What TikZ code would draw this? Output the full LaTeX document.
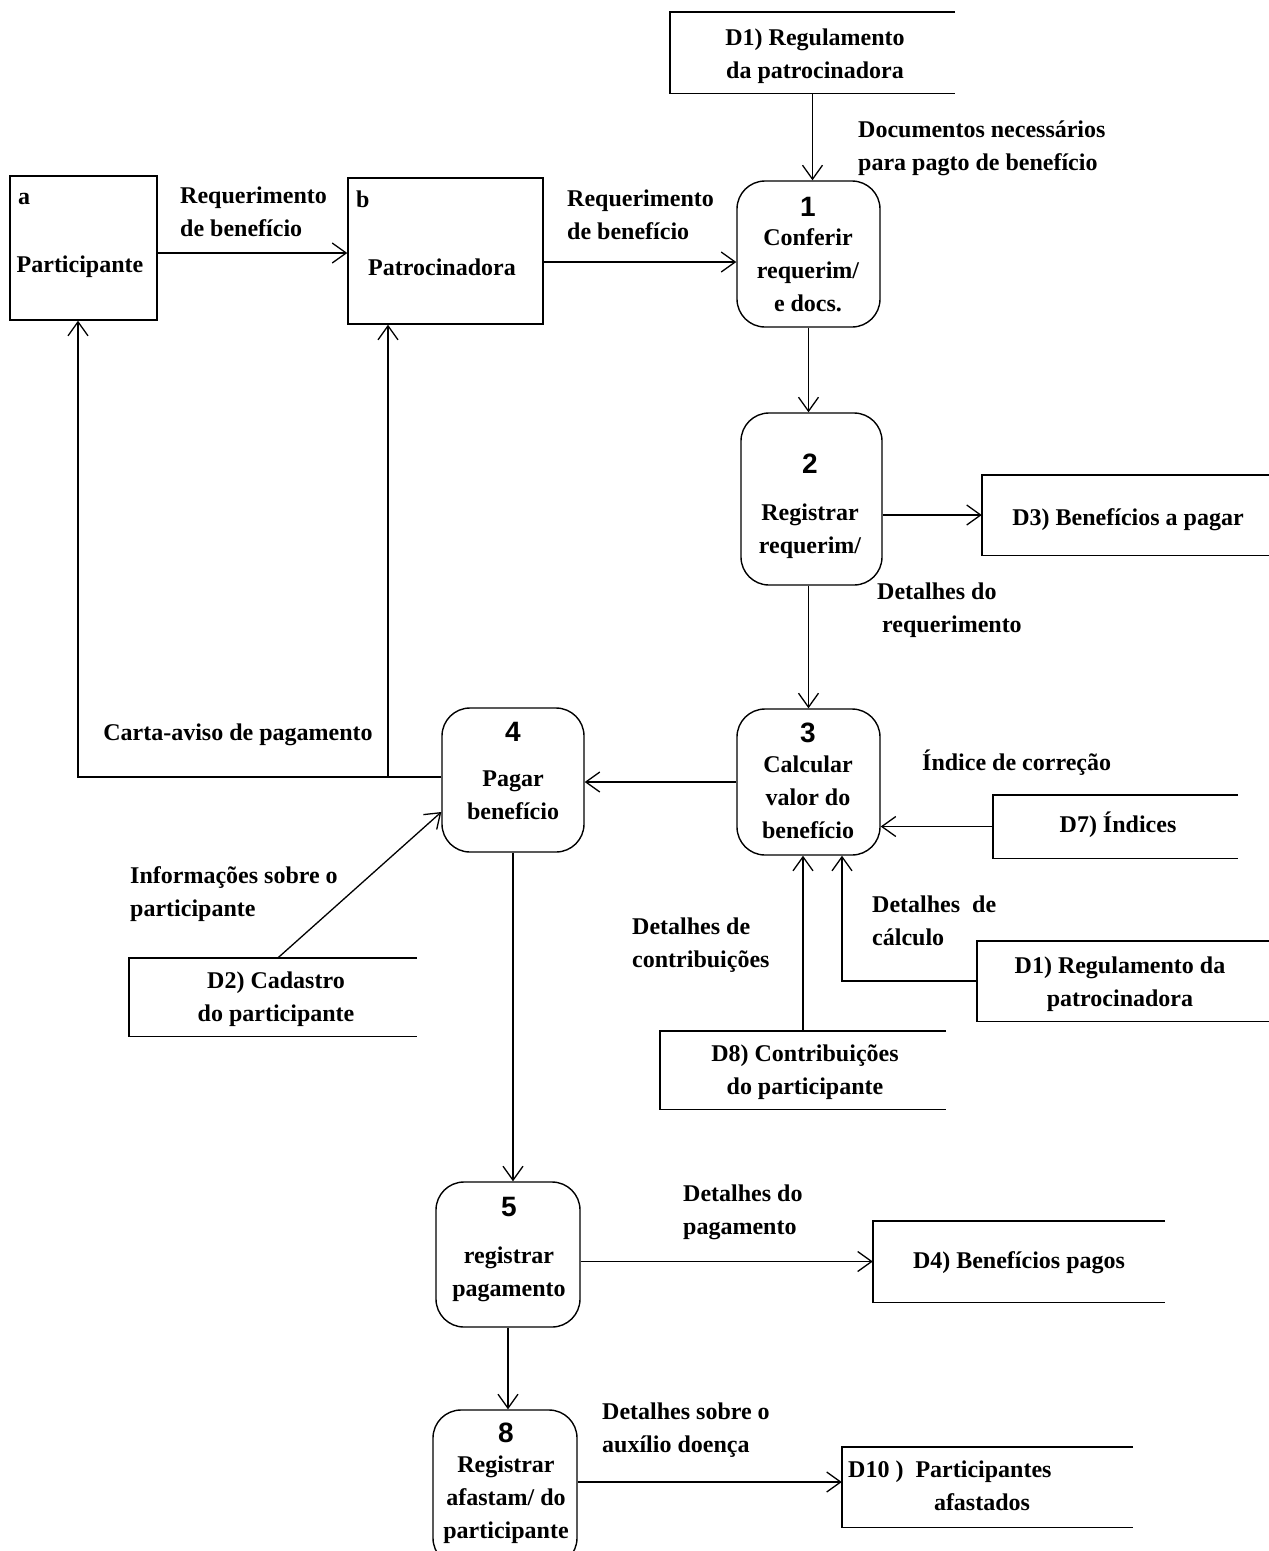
\documentclass[tikz,border=0pt]{standalone}
\usepackage{fontspec}
\setmainfont{Liberation Serif}
\newfontfamily\numfont{Liberation Sans}
\usetikzlibrary{arrows.meta}
\begin{document}
\begin{tikzpicture}[x=1pt,y=-1pt,
  font=\fontsize{24}{33}\selectfont\bfseries,
  shapebox/.style={draw, line width=1.4pt, rectangle, inner sep=0pt},
  ent/.style={shapebox},
  proc/.style={shapebox, rounded corners=28pt},
  store/.style={rectangle, inner sep=0pt},
  storeline/.style={line width=1.4pt},
  arr/.style={line width=1.3pt, -{Straight Barb[length=14pt,width=20pt,line width=1.3pt]}},
  lbl/.style={inner sep=0pt, align=left, anchor=base west},
  ctr/.style={inner sep=0pt, align=center, anchor=base},
  num/.style={inner sep=0pt, anchor=base, font=\numfont\fontsize{28}{33}\selectfont\bfseries},
]
\useasboundingbox (0,0) rectangle (1269,1551);
\clip (0,0) rectangle (1269,1551);
\fill[white] (0,0) rectangle (1269,1551);

% external entities
\node[ent, minimum width=147pt, minimum height=144pt] (a) at (83.5,248) {};
\node[lbl] (aid) at (18,204) {a};
\node[ctr] (atx) at (80,272) {Participante};
\node[ent, minimum width=195pt, minimum height=146pt] (b) at (445.5,251) {};
\node[lbl] (bid) at (356,207) {b};
\node[ctr] (btx) at (442,275) {Patrocinadora};

% processes
\node[proc, minimum width=143pt, minimum height=146pt] (p1) at (808.5,254) {};
\node[num] (n1) at (808,216) {1};
\node[ctr] (t1) at (808,311) {Conferir\\requerim/\\e docs.};

\node[proc, minimum width=141pt, minimum height=172pt] (p2) at (811.5,499) {};
\node[num] (n2) at (810,473) {2};
\node[ctr] (t2) at (810,553) {Registrar\\requerim/};

\node[proc, minimum width=143pt, minimum height=146pt] (p3) at (808.5,782) {};
\node[num] (n3) at (808,742) {3};
\node[ctr] (t3) at (808,838) {Calcular\\valor do\\benefício};

\node[proc, minimum width=142pt, minimum height=144pt] (p4) at (513,780) {};
\node[num] (n4) at (513,741) {4};
\node[ctr] (t4) at (513,819) {Pagar\\benefício};

\node[proc, minimum width=144pt, minimum height=145pt] (p5) at (508,1254.5) {};
\node[num] (n5) at (509,1216) {5};
\node[ctr] (t5) at (509,1296) {registrar\\pagamento};

\node[proc, minimum width=144pt, minimum height=156pt] (p8) at (505,1488) {};
\node[num] (n8) at (506,1442) {8};
\node[ctr] (t8) at (506,1538) {Registrar\\afastam/ do\\participante};

% data stores
\node[store, minimum width=285pt, minimum height=81pt] (d1) at (812.5,52.5) {};
\draw[storeline] (d1.north east) -- (d1.north west) -- (d1.south west) -- (d1.south east);
\node[ctr] (d1t) at (815,78) {D1) Regulamento\\da patrocinadora};

\node[store, minimum width=287pt, minimum height=80pt] (d3) at (1125.5,515) {};
\draw[storeline] (d3.north east) -- (d3.north west) -- (d3.south west) -- (d3.south east);
\node[ctr] (d3t) at (1128,525) {D3) Benefícios a pagar};

\node[store, minimum width=245pt, minimum height=63pt] (d7) at (1115.5,826.5) {};
\draw[storeline] (d7.north east) -- (d7.north west) -- (d7.south west) -- (d7.south east);
\node[ctr] (d7t) at (1118,832) {D7) Índices};

\node[store, minimum width=292pt, minimum height=80pt] (d1b) at (1123,981) {};
\draw[storeline] (d1b.north east) -- (d1b.north west) -- (d1b.south west) -- (d1b.south east);
\node[ctr] (d1bt) at (1120,1006) {D1) Regulamento da\\patrocinadora};

\node[store, minimum width=286pt, minimum height=78pt] (d8) at (803,1070) {};
\draw[storeline] (d8.north east) -- (d8.north west) -- (d8.south west) -- (d8.south east);
\node[ctr] (d8t) at (805,1094) {D8) Contribuições\\do participante};

\node[store, minimum width=288pt, minimum height=78pt] (d2) at (273,997) {};
\draw[storeline] (d2.north east) -- (d2.north west) -- (d2.south west) -- (d2.south east);
\node[ctr] (d2t) at (276,1021) {D2) Cadastro\\do participante};

\node[store, minimum width=292pt, minimum height=81pt] (d4) at (1019,1261.5) {};
\draw[storeline] (d4.north east) -- (d4.north west) -- (d4.south west) -- (d4.south east);
\node[ctr] (d4t) at (1019,1268) {D4) Benefícios pagos};

\node[store, minimum width=291pt, minimum height=80pt] (d10) at (987.5,1487) {};
\draw[storeline] (d10.north east) -- (d10.north west) -- (d10.south west) -- (d10.south east);
\node[lbl] (d10t) at (848,1477) {D10 )\ \ Participantes};
\node[ctr] (d10u) at (982,1510) {afastados};

% flow labels
\node[lbl] (l1) at (180,236) {Requerimento\\de benefício};
\node[lbl] (l2) at (567,239) {Requerimento\\de benefício};
\node[lbl] (l3) at (858,170) {Documentos necessários\\para pagto de benefício};
\node[lbl] (l4) at (877,632) {Detalhes do\\\hspace*{5pt}requerimento};
\node[ctr] (l5) at (238,740) {Carta-aviso de pagamento};
\node[lbl] (l6) at (130,916) {Informações sobre o\\participante};
\node[lbl] (l7) at (922,770) {Índice de correção};
\node[lbl] (l8) at (872,945) {Detalhes\ \ de\\cálculo};
\node[lbl] (l9) at (632,967) {Detalhes de\\contribuições};
\node[lbl] (l10) at (683,1234) {Detalhes do\\pagamento};
\node[lbl] (l11) at (602,1452) {Detalhes sobre o\\auxílio doença};

% connectors
\draw[arr] ([yshift=-5pt]a.east) -- ([yshift=-2pt]b.west);
\draw[arr] ([yshift=-11pt]b.east) -- ([yshift=-8pt]p1.west);
\draw[arr] (d1.south) -- (d1.south |- p1.north);
\draw[arr] (p1.south) -- (p1.south |- p2.north);
\draw[arr] (d3.west -| p2.east) -- (d3.west);
\draw[arr] (p2.south -| p3.north) -- (p3.north);
\draw[arr] (p3.west) -- (p3.west -| p4.east);
\coordinate (j) at (388,777);
\draw[arr] ([yshift=3pt]p4.west) -| ([xshift=-5.5pt]a.south);
\draw[arr] (j) -- (j |- b.south);
\draw[arr] ([xshift=5pt]d2.north) -- ([yshift=-32pt]p4.west);
\draw[arr] (d7.west) -- (d7.west -| p3.east);
\draw[arr] (d1b.west) -| ([xshift=33.5pt]p3.south);
\draw[arr] (d8.north) -- (d8.north |- p3.south);
\draw[arr] (p4.south) -- (p4.south |- p5.north);
\draw[arr] (d4.west -| p5.east) -- (d4.west);
\draw[arr] (p5.south) -- (p5.south |- p8.north);
\coordinate (d10in) at ([yshift=5pt]d10.west);
\draw[arr] (d10in -| p8.east) -- (d10in);
\end{tikzpicture}
\end{document}
